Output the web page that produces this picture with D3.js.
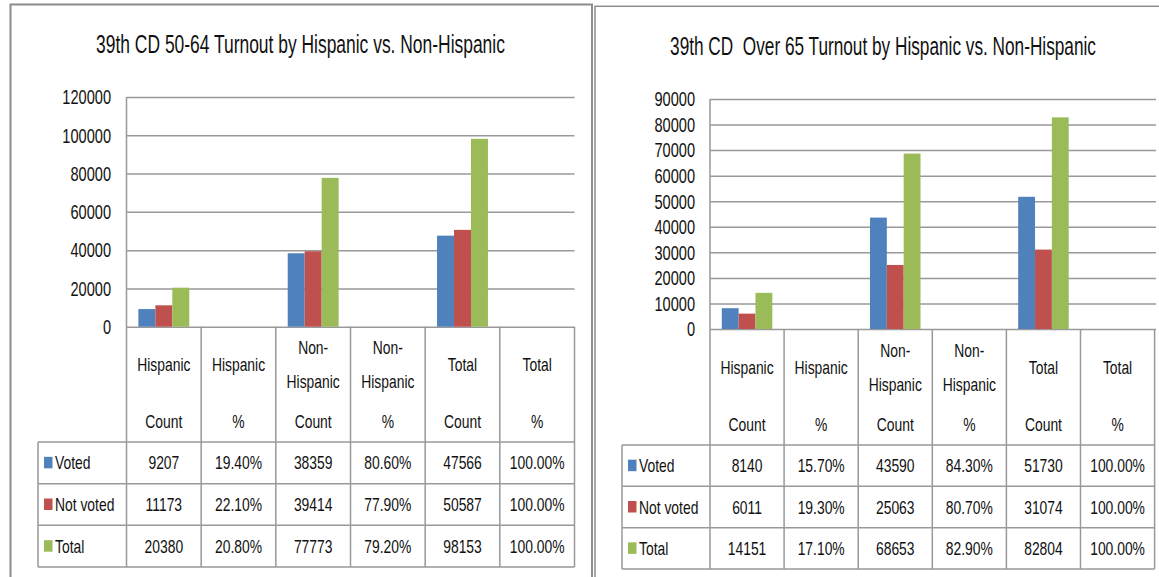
<!DOCTYPE html>
<html>
<head>
<meta charset="utf-8">
<script src="https://cdn.jsdelivr.net/npm/d3@7"></script>
<style>
  html, body { margin: 0; padding: 0; background: #fff; }
  svg { display: block; }
  text { font-family: "Liberation Sans", Arial, sans-serif; fill: #111; }
</style>
</head>
<body>
<svg id="chart" width="1159" height="577"></svg>
<script>
// ---------- DATA ----------
const categoryNameLines = [["Hispanic"], ["Hispanic"], ["Non-", "Hispanic"], ["Non-", "Hispanic"], ["Total"], ["Total"]];
const categoryUnits = ["Count", "%", "Count", "%", "Count", "%"];
const seriesNames = ["Voted", "Not voted", "Total"];
const seriesColors = ["#4F81BD", "#C0504D", "#9BBB59"];

// Left chart: 39th CD 50-64
const leftTitle = "39th CD 50-64 Turnout by Hispanic vs. Non-Hispanic";
const leftVoted    = [9207, 0.194, 38359, 0.806, 47566, 1.0];
const leftNotVoted = [11173, 0.221, 39414, 0.779, 50587, 1.0];
const leftTotal    = [20380, 0.208, 77773, 0.792, 98153, 1.0];
const leftTicks = [0, 20000, 40000, 60000, 80000, 100000, 120000];

// Right chart: 39th CD Over 65
const rightTitle = "39th CD  Over 65 Turnout by Hispanic vs. Non-Hispanic";
const rightVoted    = [8140, 0.157, 43590, 0.843, 51730, 1.0];
const rightNotVoted = [6011, 0.193, 25063, 0.807, 31074, 1.0];
const rightTotal    = [14151, 0.171, 68653, 0.829, 82804, 1.0];
const rightTicks = [0, 10000, 20000, 30000, 40000, 50000, 60000, 70000, 80000, 90000];

// ---------- DRAW ----------
const svg = d3.select("#chart");
const SX = 0.73;            // horizontal squeeze of the original rendering
const FS = 19;              // table font size
const LINE = "#999999";
const fmtCount = d3.format("d");
const fmtPct = d3.format(".2%");

function drawPanel(g, cfg) {
  const { series, ticks, title } = cfg;
  const cats = d3.range(categoryUnits.length);

  // panel border
  g.append("rect")
    .attr("x", cfg.panelX).attr("y", cfg.panelY)
    .attr("width", cfg.panelW).attr("height", 700)
    .attr("fill", "none").attr("stroke", "#8c8c8c").attr("stroke-width", cfg.panelStroke);

  // title (squeezed to the measured width)
  const t = g.append("text")
    .attr("text-anchor", "middle")
    .style("font-size", "26px")
    .style("white-space", "pre")
    .text(title);
  const natural = t.node().getComputedTextLength();
  t.attr("transform", `translate(${cfg.titleX},${cfg.titleY}) scale(${cfg.titleW / natural},1)`);

  const x = d3.scaleBand().domain(cats).range([cfg.x0, cfg.x1]).padding(0);
  const xs = d3.scaleBand().domain(d3.range(series.length)).range([0, x.bandwidth()]).paddingInner(0).paddingOuter(0.7);
  const y = d3.scaleLinear().domain([0, d3.max(ticks)]).range([cfg.zeroY, cfg.topY]);

  // gridlines
  const grid = g.append("g").attr("transform", `translate(${cfg.x0},0)`)
    .call(d3.axisLeft(y).tickValues(ticks).tickSize(-(cfg.gridX1 - cfg.x0)).tickFormat(""));
  grid.select(".domain").remove();
  grid.selectAll(".tick line").attr("stroke", LINE).attr("stroke-width", 1.5);

  // tick labels
  const lab = g.append("g").attr("transform", `translate(${cfg.x0},0)`)
    .call(d3.axisLeft(y).tickValues(ticks).tickSize(0).tickPadding(0).tickFormat(d3.format("d")));
  lab.select(".domain").remove();
  lab.selectAll(".tick text")
    .attr("x", -cfg.tickGap / SX)
    .attr("dy", "0.34em")
    .attr("transform", `scale(${SX},1)`)
    .style("font-size", "20px")
    .style("font-family", "'Liberation Sans', Arial, sans-serif")
    .attr("fill", "#111");

  // y axis line
  g.append("line").attr("x1", cfg.x0).attr("x2", cfg.x0)
    .attr("y1", cfg.topY).attr("y2", cfg.tableBottom)
    .attr("stroke", LINE).attr("stroke-width", 1.5);

  // bars
  series.forEach((vals, si) => {
    g.append("g").selectAll("rect").data(vals).join("rect")
      .attr("x", (d, i) => x(i) + xs(si))
      .attr("width", xs.bandwidth())
      .attr("y", d => y(d))
      .attr("height", d => y(0) - y(d))
      .attr("fill", seriesColors[si]);
  });

  // table vertical lines (column boundaries)
  const bounds = cats.map(i => x(i)).concat([cfg.x1]);
  g.append("g").selectAll("line").data(bounds.slice(1)).join("line")
    .attr("x1", d => d).attr("x2", d => d)
    .attr("y1", cfg.zeroY).attr("y2", cfg.tableBottom)
    .attr("stroke", LINE).attr("stroke-width", 1.5);
  g.append("line").attr("x1", cfg.legendX).attr("x2", cfg.legendX)
    .attr("y1", cfg.headerBottom).attr("y2", cfg.tableBottom)
    .attr("stroke", LINE).attr("stroke-width", 1.5);

  // table horizontal lines
  const rowH = (cfg.tableBottom - cfg.headerBottom) / series.length;
  const rowYs = d3.range(series.length + 1).map(k => cfg.headerBottom + k * rowH);
  g.append("g").selectAll("line").data(rowYs).join("line")
    .attr("x1", cfg.legendX).attr("x2", cfg.x1)
    .attr("y1", d => d).attr("y2", d => d)
    .attr("stroke", LINE).attr("stroke-width", 1.5);

  // header labels
  const nameCenter = cfg.zeroY + 38;
  const lh = 34;
  cats.forEach(i => {
    const cx = x(i) + x.bandwidth() / 2;
    const lines = categoryNameLines[i];
    lines.forEach((ln, k) => {
      const cy = nameCenter + (k - (lines.length - 1) / 2) * lh;
      g.append("text")
        .attr("transform", `translate(${cx},${cy}) scale(${SX},1)`)
        .attr("text-anchor", "middle").attr("dy", "0.35em")
        .style("font-size", FS + "px")
        .text(ln);
    });
    g.append("text")
      .attr("transform", `translate(${cx},${cfg.headerBottom - 20.5}) scale(${SX},1)`)
      .attr("text-anchor", "middle").attr("dy", "0.35em")
      .style("font-size", FS + "px")
      .text(categoryUnits[i]);
  });

  // rows
  series.forEach((vals, si) => {
    const cy = rowYs[si] + rowH / 2;
    g.append("rect")
      .attr("x", cfg.legendX + 6).attr("y", cy - 6)
      .attr("width", 8.5).attr("height", 11.5)
      .attr("fill", seriesColors[si]);
    g.append("text")
      .attr("transform", `translate(${cfg.legendX + 17},${cy}) scale(${SX},1)`)
      .attr("dy", "0.35em")
      .style("font-size", FS + "px")
      .text(seriesNames[si]);
    vals.forEach((v, i) => {
      const cx = x(i) + x.bandwidth() / 2;
      g.append("text")
        .attr("transform", `translate(${cx},${cy}) scale(${SX},1)`)
        .attr("text-anchor", "middle").attr("dy", "0.35em")
        .style("font-size", FS + "px")
        .text(categoryUnits[i] === "%" ? fmtPct(v) : fmtCount(v));
    });
  });
}

drawPanel(svg.append("g"), {
  title: leftTitle, series: [leftVoted, leftNotVoted, leftTotal], ticks: leftTicks,
  panelX: 10.5, panelY: 4.5, panelW: 581.5, panelStroke: 2,
  titleX: 300.5, titleW: 409, titleY: 53,
  x0: 126.5, x1: 574.5, gridX1: 574.5, topY: 97, zeroY: 326.7,
  tickGap: 15.5, legendX: 38, headerBottom: 442, tableBottom: 567
});

drawPanel(svg.append("g"), {
  title: rightTitle, series: [rightVoted, rightNotVoted, rightTotal], ticks: rightTicks,
  panelX: 595, panelY: 6.3, panelW: 600, panelStroke: 1.5,
  titleX: 883, titleW: 426, titleY: 54.5,
  x0: 710, x1: 1154.6, gridX1: 1156, topY: 99, zeroY: 329,
  tickGap: 15, legendX: 622, headerBottom: 445, tableBottom: 569
});
</script>
</body>
</html>
